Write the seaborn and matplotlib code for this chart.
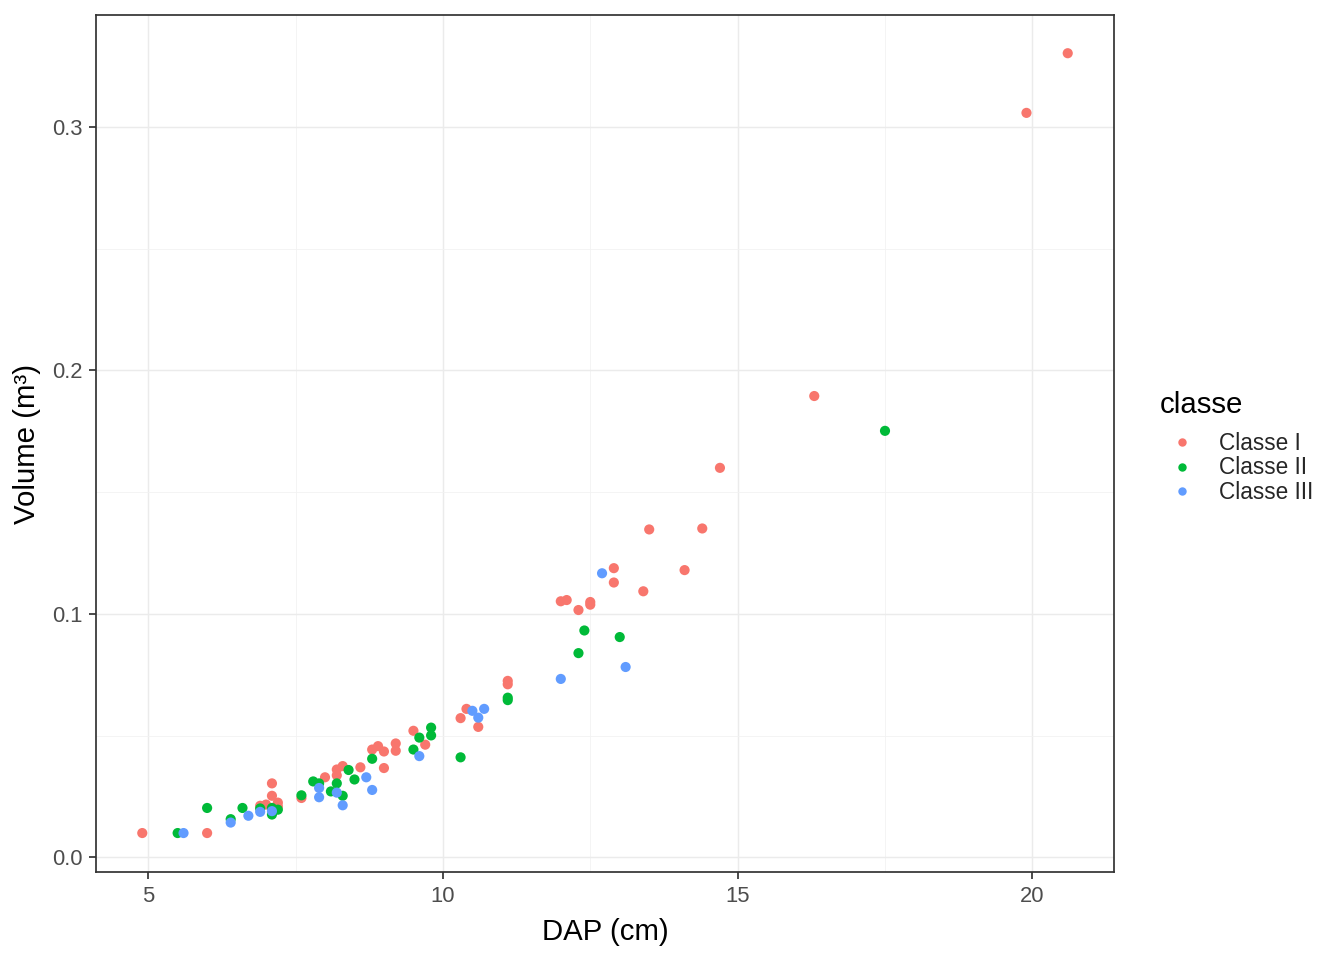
import matplotlib
matplotlib.use("Agg")
import matplotlib.pyplot as plt
import seaborn as sns
import pandas as pd
from matplotlib.ticker import FixedLocator
from matplotlib.lines import Line2D

dap_I = [4.9, 6.0, 7.1, 7.1, 7.0, 7.2, 7.2, 6.9, 7.6, 8.0, 8.2, 8.2, 8.3, 8.6, 8.8, 8.9,
         9.0, 9.0, 9.2, 9.2, 9.5, 9.7, 10.3, 10.4, 10.6, 11.1, 11.1, 12.0, 12.1, 12.3,
         12.5, 12.5, 12.9, 12.9, 13.4, 13.5, 14.1, 14.4, 14.7, 16.3, 19.9, 20.6]
vol_I = [0.010, 0.010, 0.0304, 0.0253, 0.0217, 0.0225, 0.0209, 0.0212, 0.0244, 0.0329,
         0.0361, 0.0337, 0.0375, 0.0370, 0.0443, 0.0457, 0.0435, 0.0367, 0.0468, 0.0438,
         0.0520, 0.0463, 0.0572, 0.0610, 0.0536, 0.0725, 0.0711, 0.1052, 0.1057, 0.1016,
         0.1049, 0.1038, 0.1188, 0.1129, 0.1093, 0.1347, 0.1180, 0.1351, 0.1600, 0.1895,
         0.3058, 0.3303]

dap_II = [5.5, 6.0, 6.6, 6.4, 6.9, 7.1, 7.1, 7.2, 7.6, 7.8, 7.9, 8.2, 8.1, 8.3, 8.4, 8.5,
          8.8, 9.5, 9.6, 9.8, 9.8, 10.3, 11.1, 11.1, 12.4, 12.3, 13.0, 17.5]
vol_II = [0.010, 0.0203, 0.0203, 0.0157, 0.0201, 0.0203, 0.0176, 0.0196, 0.0255, 0.0312,
          0.0304, 0.0304, 0.0271, 0.0253, 0.0359, 0.0320, 0.0405, 0.0443, 0.0492, 0.0533,
          0.0501, 0.0411, 0.0656, 0.0646, 0.0932, 0.0839, 0.0905, 0.1752]

dap_III = [5.6, 6.4, 6.7, 6.9, 7.1, 7.9, 7.9, 8.2, 8.3, 8.7, 8.8, 9.6, 10.5, 10.7, 10.6,
           12.0, 12.7, 13.1]
vol_III = [0.010, 0.0143, 0.0171, 0.0187, 0.0190, 0.0285, 0.0247, 0.0266, 0.0214, 0.0329,
           0.0277, 0.0416, 0.0602, 0.0610, 0.0574, 0.0733, 0.1167, 0.0782]

classes = ["Classe I", "Classe II", "Classe III"]
colors = ["#F8766D", "#00BA38", "#619CFF"]
x_ticks = [5, 10, 15, 20]
y_ticks = [0.0, 0.1, 0.2, 0.3]
y_tick_labels = ["0.0", "0.1", "0.2", "0.3"]

df = pd.DataFrame({
    "DAP": dap_I + dap_II + dap_III,
    "Volume": vol_I + vol_II + vol_III,
    "classe": [classes[0]] * len(dap_I) + [classes[1]] * len(dap_II) + [classes[2]] * len(dap_III),
})

sns.set_style("white")
plt.rcParams["font.family"] = ["Liberation Sans", "DejaVu Sans"]

W, H = 1344, 960
fig = plt.figure(figsize=(W / 96, H / 96), dpi=96)
ax = fig.add_axes([96 / W, 1 - 872 / H, (1114 - 96) / W, (872 - 15) / H])

ax.set_axisbelow(True)
sns.scatterplot(data=df, x="DAP", y="Volume", hue="classe", hue_order=classes,
                palette=colors, s=58, linewidth=0, alpha=1, ax=ax, legend=False, zorder=3)

ax.set_xlim(4.115, 21.385)
ax.set_ylim(-0.006, 0.346)
ax.xaxis.set_major_locator(FixedLocator(x_ticks))
ax.yaxis.set_major_locator(FixedLocator(y_ticks))
ax.set_yticklabels(y_tick_labels)
ax.xaxis.set_minor_locator(FixedLocator([7.5, 12.5, 17.5]))
ax.yaxis.set_minor_locator(FixedLocator([0.05, 0.15, 0.25]))
ax.grid(which="major", color="#EBEBEB", linewidth=1.1)
ax.grid(which="minor", color="#F2F2F2", linewidth=0.6)
ax.tick_params(which="major", length=5.2, width=1.3, color="#333333", labelsize=16.5,
               labelcolor="#4D4D4D", left=True, bottom=True, pad=5)
ax.tick_params(which="minor", length=0)
for sp in ax.spines.values():
    sp.set_color("#333333")
    sp.set_linewidth(1.3)

ax.set_xlabel("DAP (cm)", fontsize=22, color="black")
ax.set_ylabel("Volume (m³)", fontsize=22, color="black")
ax.xaxis.set_label_coords(0.5, (872 - 918) / 857)
ax.yaxis.set_label_coords((41 - 96) / 1018, 0.5)

fig.text(1160 / W, 1 - 413 / H, "classe", fontsize=22, color="black",
         ha="left", va="baseline")
handles = [Line2D([0], [0], marker="o", linestyle="", markersize=6.3, markerfacecolor=c,
                  markeredgewidth=0) for c in colors]
leg = fig.legend(handles, classes, loc="upper left",
                 bbox_to_anchor=(1159.5 / W, 1 - 432 / H), frameon=False,
                 fontsize=17, handlelength=2.0,
                 handletextpad=0.64, labelspacing=0.065, borderpad=0, borderaxespad=0)

fig.savefig("out.png", dpi=96)
